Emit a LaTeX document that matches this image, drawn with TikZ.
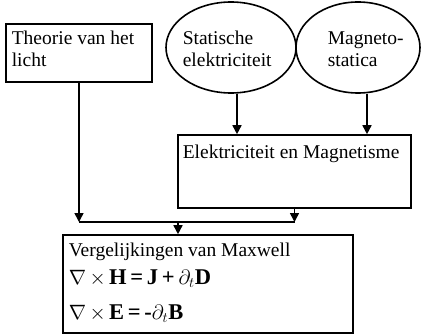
\documentclass[tikz,border=0pt]{standalone}
\usepackage{fontspec}
\setmainfont{Liberation Serif}
\usetikzlibrary{arrows.meta,shapes.geometric,calc}
\begin{document}
\begin{tikzpicture}[x=1pt,y=-1pt,
  line width=1.6pt,
  arr/.style={-{Triangle[length=9pt,width=9pt]}},
  lbl/.style={anchor=base west,inner sep=0pt,font=\fontsize{19.5}{22.5}\selectfont},
  eq/.style={anchor=base west,inner sep=0pt,font=\fontsize{22.5}{26}\selectfont}]
\useasboundingbox (0,0) rectangle (423,334);
% shapes
\node[draw,rectangle,minimum width=146pt,minimum height=58pt,inner sep=0pt] (theory) at (79,53) {};
\node[draw,ellipse,minimum width=130pt,minimum height=91pt,inner sep=0pt] (stat) at (231,47.5) {};
\node[draw,ellipse,minimum width=124pt,minimum height=91pt,inner sep=0pt] (mag) at (358,47.5) {};
\node[draw,rectangle,minimum width=233pt,minimum height=73pt,inner sep=0pt] (em) at (294.5,171.5) {};
\node[draw,rectangle,minimum width=290pt,minimum height=98pt,inner sep=0pt] (maxw) at (208,284) {};
% texts
\node[lbl] (t1) at (11,45) {Theorie van het};
\node[lbl] (t2) at (11,67) {licht};
\node[lbl] (s1) at (182,45) {Statische};
\node[lbl] (s2) at (182,67) {elektriciteit};
\node[lbl] (m1) at (327,45) {Magneto-};
\node[lbl] (m2) at (327,67) {statica};
\node[lbl] (e1) at (182,158) {Elektriciteit en Magnetisme};
\node[lbl] (v1) at (68,256) {Vergelijkingen van Maxwell};
\node[eq] (q1) at (68,284) {$\nabla\,\times\,$\textbf{H\,=\,J\,+}\,$\partial_t$\textbf{D}};
\node[eq] (q2) at (68,319) {$\nabla\,\times\,$\textbf{E\,=\,-}$\partial_t$\textbf{B}};
% connectors
\coordinate (jl) at (79,222);
\coordinate (jr) at (294.5,222);
\coordinate (jm) at (178,222);
\draw[arr] (theory.south) -- (jl);
\draw[arr] (em.south) -- (jr);
\draw (jl) -- (jr);
\draw[arr] (jm) -- (jm |- maxw.north);
\draw[arr] ([xshift=6pt]stat.south) -- ([xshift=6pt]stat.south |- em.north);
\draw[arr] ([xshift=9pt]mag.south) -- ([xshift=9pt]mag.south |- em.north);
\end{tikzpicture}
\end{document}
